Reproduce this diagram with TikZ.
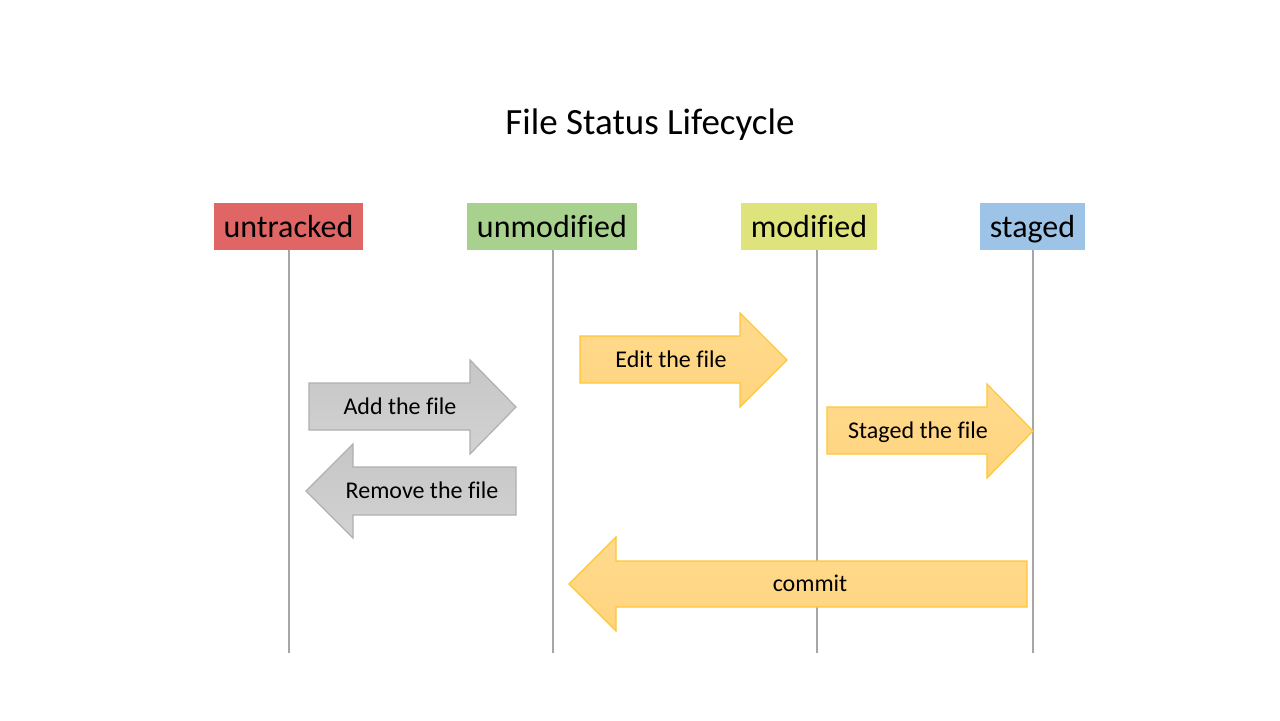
\documentclass[tikz,border=0pt]{standalone}
\usepackage{fontspec}
\setmainfont{Carlito}[Ligatures=NoCommon]
\newcommand{\nofi}{f\kern0pt i}
\definecolor{cUntr}{HTML}{E06666}
\definecolor{cUnmod}{HTML}{A9D18E}
\definecolor{cMod}{HTML}{DEE37C}
\definecolor{cStaged}{HTML}{9DC3E6}
\definecolor{cLine}{HTML}{A6A6A6}
\definecolor{yTop}{HTML}{FFDA8E}
\definecolor{yBot}{HTML}{FFD47E}
\definecolor{yBord}{HTML}{FFC734}
\definecolor{gTop}{HTML}{C6C6C6}
\definecolor{gBot}{HTML}{D2D2D2}
\definecolor{gBord}{HTML}{B0B0B0}
\begin{document}
\begin{tikzpicture}[x=0.5pt,y=-0.5pt,
  hdr/.style={inner sep=0pt, minimum height=23.5pt, text height=11.2pt, text depth=0pt, font=\fontsize{16}{19}\selectfont},
  life/.style={draw=cLine, line width=1pt},
  yarrow/.style={top color=yTop, bottom color=yBot, draw=yBord, line width=0.6pt},
  garrow/.style={top color=gTop, bottom color=gBot, draw=gBord, line width=0.6pt},
  lbl/.style={inner sep=0pt, text height=7pt, text depth=0pt, font=\fontsize{12}{14}\selectfont}]
\useasboundingbox[fill=white] (0,0) rectangle (1280,720);

\node[font=\fontsize{18.5}{22}\selectfont] (title) at (650,125) {File Status Lifecycle};

\node[hdr, fill=cUntr, minimum width=74.5pt] (untracked) at (288.5,226.5) {untracked};
\node[hdr, fill=cUnmod, minimum width=85pt] (unmodified) at (552,226.5) {unmodi\nofi ed};
\node[hdr, fill=cMod, minimum width=68pt] (modified) at (809,226.5) {modi\nofi ed};
\node[hdr, fill=cStaged, minimum width=52.5pt] (staged) at (1032.5,226.5) {staged};

\coordinate (t1) at (289,250); \coordinate (b1) at (289,653);
\coordinate (t2) at (553,250); \coordinate (b2) at (553,653);
\coordinate (t3) at (817,250); \coordinate (b3) at (817,653);
\coordinate (t4) at (1033,250); \coordinate (b4) at (1033,653);
\draw[life] (t1) -- (b1);
\draw[life] (t2) -- (b2);
\draw[life] (t3) -- (b3);
\draw[life] (t4) -- (b4);

% Add the file
\path[garrow] (309,383) -- (470,383) -- (470,360) -- (516,407) -- (470,454) -- (470,430) -- (309,430) -- cycle;
\node[lbl] (add) at (400,407) {Add the \nofi le};
% Remove the file
\path[garrow] (516,467) -- (353,467) -- (353,444) -- (306,491) -- (353,538) -- (353,515) -- (516,515) -- cycle;
\node[lbl] (remove) at (422,491) {Remove the \nofi le};
% Edit the file
\path[yarrow] (580,336) -- (740,336) -- (740,313) -- (787,360) -- (740,407) -- (740,383) -- (580,383) -- cycle;
\node[lbl] (edit) at (671,360) {Edit the \nofi le};
% Staged the file
\path[yarrow] (827,407) -- (987,407) -- (987,384) -- (1033,431) -- (987,478) -- (987,454) -- (827,454) -- cycle;
\node[lbl] (stage) at (918,431) {Staged the \nofi le};
% commit
\path[yarrow] (1027,561) -- (616,561) -- (616,537) -- (569,584) -- (616,631) -- (616,607) -- (1027,607) -- cycle;
\node[lbl] (commit) at (810,584) {commit};
\end{tikzpicture}
\end{document}
